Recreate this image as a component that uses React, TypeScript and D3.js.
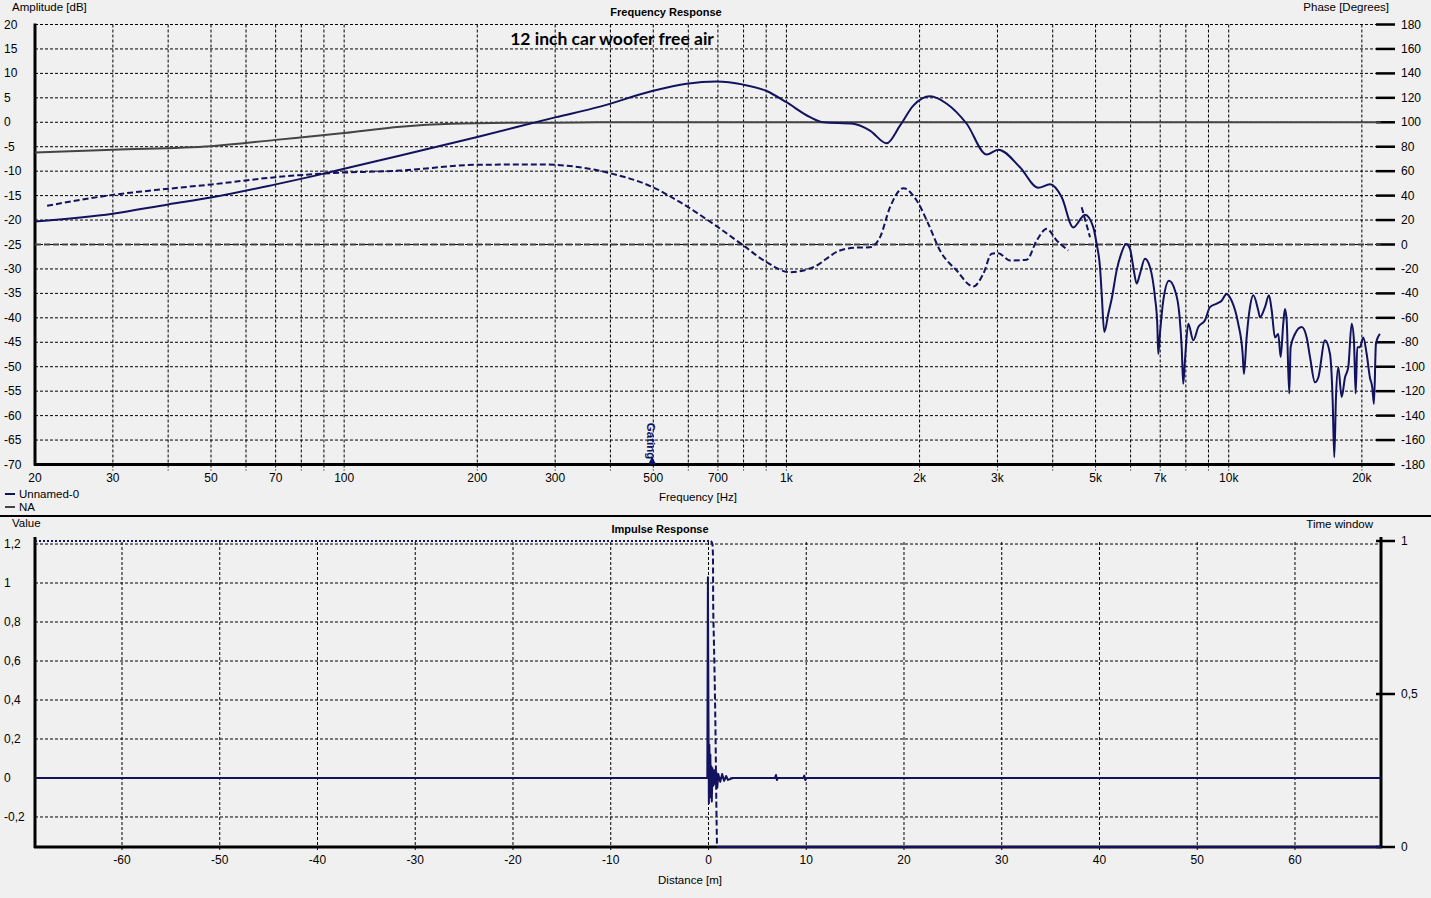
import React, { useEffect } from 'react';
import * as d3 from 'd3';

// ---------- DATA ----------
const freqDomain: [number, number] = [20, 22050];
const dbDomain: [number, number] = [-70, 20];
const phaseDomain: [number, number] = [-180, 180];

const dbTicks = [20, 15, 10, 5, 0, -5, -10, -15, -20, -25, -30, -35, -40, -45, -50, -55, -60, -65, -70];
const phaseTicks = [180, 160, 140, 120, 100, 80, 60, 40, 20, 0, -20, -40, -60, -80, -100, -120, -140, -160, -180];
const freqLabelTicks = [20, 30, 50, 70, 100, 200, 300, 500, 700, 1000, 2000, 3000, 5000, 7000, 10000, 20000];
const freqLabels = ['20', '30', '50', '70', '100', '200', '300', '500', '700', '1k', '2k', '3k', '5k', '7k', '10k', '20k'];
const freqGrid = [30, 40, 50, 60, 70, 80, 90, 100, 200, 300, 400, 500, 600, 700, 800, 900, 1000,
  2000, 3000, 4000, 5000, 6000, 7000, 8000, 9000, 10000, 20000];

// Unnamed-0 magnitude [Hz, dB]
const magnitudeUnnamed0: [number, number][] = [
  [20, -20.3], [30, -18.7], [40, -16.8], [50, -15.4], [70, -12.7], [90, -10.5], [100, -9.5], [134, -6.8], [200, -3.0],
  [300, 1.0], [379, 3.2], [497, 6.4], [595, 7.9], [695, 8.35], [799, 7.7], [902, 6.4], [1000, 4.1],
  [1131, 1.05], [1213, 0.0], [1416, -0.3], [1545, -1.7], [1685, -4.3], [1806, -0.7], [1936, 3.4], [2112, 5.3],
  [2304, 3.8], [2556, -0.3], [2836, -6.6], [3013, -5.6], [3373, -9.2], [3710, -13.4], [3944, -12.7], [4190, -15.3],
  [4452, -21.5], [4732, -18.9], [4942, -21.5], [5028, -24.9], [5116, -29.6], [5162, -35.1], [5232, -42.9], [5342, -39.2],
  [5438, -36.1], [5580, -30.3], [5728, -26.6], [5858, -24.9], [5982, -25.9], [6084, -29.6], [6194, -33.0], [6300, -31],
  [6466, -27.9], [6636, -29.6], [6812, -35.8], [6894, -41.2], [6930, -47.4], [6990, -43.3], [7112, -36.5], [7328, -32.4],
  [7560, -34.4], [7732, -39.2], [7828, -46], [7892, -53.5], [7962, -48.7], [8102, -41.2], [8316, -44.6], [8534, -41.9],
  [8838, -40.5], [9070, -37.8], [9392, -37.1], [9638, -36.5], [9892, -35.1], [10152, -36.5], [10508, -41.2], [10752, -47.4],
  [10824, -51.5], [10978, -44], [11170, -37.8], [11364, -35.4], [11664, -38.5], [11768, -39.9], [12078, -37.8], [12332, -35.4],
  [12508, -38.5], [12724, -44], [12942, -43.3], [13104, -48], [13284, -41.2], [13400, -38.2], [13522, -40.5], [13704, -55.5],
  [13804, -46], [14120, -43.3], [14620, -41.9], [15006, -44], [15268, -48], [15670, -53.2], [15944, -52.2], [16508, -44.6],
  [16944, -47.4], [17180, -56.9], [17324, -68.5], [17480, -56.2], [17690, -50.1], [18004, -56.2], [18318, -52.2], [18636, -50.1],
  [18966, -41.2], [19192, -44.6], [19366, -55.5], [19526, -46], [19802, -46], [20148, -44], [20508, -47.4], [20858, -52.2],
  [21112, -54.2], [21300, -57.6], [21522, -45.3], [21974, -43.3],
];

// Unnamed-0 phase [Hz, degrees]; null breaks the line
const phaseUnnamed0: [number, number | null][] = [
  [21.3, 31.7], [30, 40.6], [40, 45.6], [50, 49.1], [70, 55.1], [90, 58.1], [134, 60.5], [200, 65.2], [277, 65.5],
  [341, 63.2], [405, 57.8], [499, 46.9], [575, 34.6], [683, 16.9], [799, -0.8], [902, -14.5], [1019, -22.7],
  [1150, -18.6], [1321, -4.9], [1416, -2.7], [1545, -2.2], [1628, 6], [1715, 30.5], [1838, 46.1], [1970, 36],
  [2093, 16.9], [2224, -4.9], [2426, -21.3], [2644, -34.4], [2787, -24], [2911, -7.6], [3013, -7.1], [3203, -13.1],
  [3494, -12.5], [3680, 3.3], [3878, 12.8], [4084, 3.3], [4337, -4.9], [4500, null], [4651, 30.5], [4857, 6],
];

// NA magnitude [Hz, dB] and phase [Hz, deg]
const magnitudeNA: [number, number][] = [
  [20, -6.2], [30, -5.6], [50, -4.9], [70, -3.6], [100, -2.2], [134, -0.9], [175, -0.3], [250, -0.1],
  [340, -0.05], [400, 0], [22050, 0],
];
const phaseNA: [number, number][] = [[20, 0], [22050, 0]];

const gatingFreq = 497;

// Impulse response
const distDomain: [number, number] = [-68.9, 68.8];
const valueDomain: [number, number] = [-0.354, 1.236];
const valueTicks = [1.2, 1, 0.8, 0.6, 0.4, 0.2, 0, -0.2];
const valueLabels = ['1,2', '1', '0,8', '0,6', '0,4', '0,2', '0', '-0,2'];
const distTicks = [-60, -50, -40, -30, -20, -10, 0, 10, 20, 30, 40, 50, 60];
const windowTicks = [1, 0.5, 0];
const windowLabels = ['1', '0,5', '0'];

const impulse: [number, number][] = [
  [-68.9, 0], [-0.12, 0], [-0.06, 1.03], [0.0, 0.3], [0.04, -0.13], [0.09, 0.17], [0.14, -0.1], [0.19, 0.12],
  [0.24, -0.08], [0.29, 0.06], [0.34, -0.12], [0.4, 0.05], [0.5, -0.04], [0.6, 0.04], [0.7, -0.03], [0.8, 0.03],
  [0.9, -0.05], [1.0, 0.02], [1.2, -0.02], [1.4, 0.02], [1.6, -0.015], [1.8, 0.01], [2.0, -0.01], [2.5, 0],
  [6.8, 0], [6.9, 0.015], [7.0, -0.01], [7.1, 0], [9.7, 0], [9.8, 0.012], [9.9, -0.01], [10.0, 0], [68.8, 0],
];

const windowFlat: [number, number][] = [[-68.9, 1], [0.25, 1]];
const windowEdge: [number, number][] = [
  [0.25, 1], [0.4, 0.99], [0.46, 0.95], [0.48, 0.8], [0.55, 0.68], [0.66, 0.5], [0.72, 0.37], [0.8, 0.15], [0.87, 0],
];
const windowZero: [number, number][] = [[0.87, 0], [68.8, 0]];

// ---------- STYLE ----------
const NAVY = '#12125e';
const GRAY = '#444444';
const FONT = '"Liberation Sans", Arial, sans-serif';

export default function App() {
  useEffect(() => {
    document.body.style.margin = '0';
    document.body.style.background = '#f0f0f0';
  }, []);

  const x = d3.scaleLog().domain(freqDomain).range([35, 1380.6]);
  const yDb = d3.scaleLinear().domain(dbDomain).range([464.5, 24.5]);
  const yPh = d3.scaleLinear().domain(phaseDomain).range([464.5, 24.5]);

  const xd = d3.scaleLinear().domain(distDomain).range([35, 1381]);
  const yv = d3.scaleLinear().domain(valueDomain).range([847, 537]);
  const yw = d3.scaleLinear().domain([0, 1]).range([847, 541]);

  const magLine = d3.line<[number, number]>().x(d => x(d[0])).y(d => yDb(d[1])).curve(d3.curveMonotoneX);
  const phLine = d3.line<[number, number | null]>()
    .defined(d => d[1] !== null)
    .x(d => x(d[0])).y(d => yPh(d[1] as number)).curve(d3.curveMonotoneX);
  const impLine = d3.line<[number, number]>().x(d => xd(d[0])).y(d => yv(d[1]));
  const winLine = d3.line<[number, number]>().x(d => xd(d[0])).y(d => yw(d[1])).curve(d3.curveMonotoneX);

  const gx = x(gatingFreq);
  const plotTop = yDb(20);
  const plotBottom = yDb(-70);

  return (
    <svg width={1431} height={898} style={{ position: 'absolute', left: 0, top: 0, display: 'block', background: '#f0f0f0' }}
      fontFamily={FONT}>
      <rect x={0} y={0} width={1431} height={898} fill="#f0f0f0" />

      {/* ===== TOP: Frequency response ===== */}
      {dbTicks.filter(t => t !== -70).map(t => (
        <line key={'hg' + t} x1={35} x2={1376} y1={yDb(t)} y2={yDb(t)} stroke="#000" strokeWidth={1} strokeDasharray="3,2" />
      ))}
      {freqGrid.map(f => (
        <line key={'vg' + f} x1={x(f)} x2={x(f)} y1={plotTop} y2={plotBottom + 6} stroke="#000" strokeWidth={1} strokeDasharray="3,2" />
      ))}
      <line x1={35} x2={35} y1={plotTop - 1} y2={plotBottom + 1} stroke="#000" strokeWidth={3} />
      <line x1={34} x2={1393} y1={plotBottom} y2={plotBottom} stroke="#000" strokeWidth={3} />

      {dbTicks.map(t => (
        <text key={'dl' + t} x={4} y={yDb(t)} fontSize={12} dominantBaseline="central" fill="#000">{t}</text>
      ))}
      {phaseTicks.map(t => (
        <g key={'pt' + t}>
          <line x1={1376} x2={1395} y1={yPh(t)} y2={yPh(t)} stroke="#000" strokeWidth={2.5} />
          <text x={1401} y={yPh(t)} fontSize={12} dominantBaseline="central" fill="#000">{t}</text>
        </g>
      ))}
      {freqLabelTicks.map((f, i) => (
        <text key={'fl' + f} x={x(f)} y={478} fontSize={12} textAnchor="middle" dominantBaseline="central" fill="#000">{freqLabels[i]}</text>
      ))}

      {/* NA curves */}
      <path d={phLine(phaseNA as [number, number | null][]) || ''} fill="none" stroke={GRAY} strokeWidth={2} strokeDasharray="6,3" />
      <path d={magLine(magnitudeNA) || ''} fill="none" stroke={GRAY} strokeWidth={2} />

      {/* Unnamed-0 curves */}
      <path d={phLine(phaseUnnamed0) || ''} fill="none" stroke={NAVY} strokeWidth={2} strokeDasharray="6,3" />
      <path d={magLine(magnitudeUnnamed0) || ''} fill="none" stroke={NAVY} strokeWidth={2} strokeLinejoin="round" />

      {/* Gating marker */}
      <g fill={NAVY}>
        <text transform={`translate(${gx - 5},${441}) rotate(90)`} fontSize={11.5} fontWeight="bold" textAnchor="middle" fill={NAVY}>Gating</text>
        <path d={`M${gx},${plotBottom - 8} L${gx - 4},${plotBottom} L${gx + 4},${plotBottom} Z`} />
      </g>

      {/* titles */}
      <text x={12} y={7} fontSize={11.5} dominantBaseline="central" fill="#000">Amplitude [dB]</text>
      <text x={1389} y={7} fontSize={11.5} textAnchor="end" dominantBaseline="central" fill="#000">Phase [Degrees]</text>
      <text x={666} y={12} fontSize={11} fontWeight="bold" textAnchor="middle" dominantBaseline="central" fill="#000">Frequency Response</text>
      <text x={612} y={38} fontSize={17.5} fontWeight="bold" textAnchor="middle" dominantBaseline="central" fill="#000"
        fontFamily='Lato, "Open Sans", sans-serif'>12 inch car woofer free air</text>
      <text x={698} y={497} fontSize={11.5} textAnchor="middle" dominantBaseline="central" fill="#000">Frequency [Hz]</text>

      {/* legend */}
      <line x1={5} x2={15} y1={494} y2={494} stroke={NAVY} strokeWidth={2} />
      <text x={19} y={494} fontSize={11.5} dominantBaseline="central" fill="#000">Unnamed-0</text>
      <line x1={5} x2={15} y1={507} y2={507} stroke={GRAY} strokeWidth={2} />
      <text x={19} y={507} fontSize={11.5} dominantBaseline="central" fill="#000">NA</text>

      <line x1={0} x2={1431} y1={516} y2={516} stroke="#000" strokeWidth={2} />

      {/* ===== BOTTOM: Impulse response ===== */}
      <text x={12} y={523} fontSize={11.5} dominantBaseline="central" fill="#000">Value</text>
      <text x={660} y={529} fontSize={11} fontWeight="bold" textAnchor="middle" dominantBaseline="central" fill="#000">Impulse Response</text>
      <text x={1373} y={524} fontSize={11.5} textAnchor="end" dominantBaseline="central" fill="#000">Time window</text>

      {valueTicks.map(t => (
        <line key={'ihg' + t} x1={35} x2={1381} y1={yv(t)} y2={yv(t)} stroke="#000" strokeWidth={1} strokeDasharray="3,2" />
      ))}
      {distTicks.map(t => (
        <line key={'ivg' + t} x1={xd(t)} x2={xd(t)} y1={542} y2={851} stroke="#000" strokeWidth={1} strokeDasharray="3,2" />
      ))}

      <line x1={35} x2={35} y1={537} y2={848} stroke="#000" strokeWidth={3} />
      <line x1={34} x2={1382} y1={847} y2={847} stroke="#000" strokeWidth={3} />
      <line x1={1381} x2={1381} y1={537} y2={848} stroke="#000" strokeWidth={3} />

      {valueTicks.map((t, i) => (
        <text key={'ivl' + t} x={4} y={yv(t)} fontSize={12} dominantBaseline="central" fill="#000">{valueLabels[i]}</text>
      ))}
      {windowTicks.map((t, i) => (
        <g key={'iwt' + t}>
          <line x1={1376} x2={1395} y1={yw(t)} y2={yw(t)} stroke="#000" strokeWidth={2.5} />
          <text x={1401} y={yw(t)} fontSize={12} dominantBaseline="central" fill="#000">{windowLabels[i]}</text>
        </g>
      ))}
      {distTicks.map(t => (
        <text key={'idl' + t} x={xd(t)} y={860} fontSize={12} textAnchor="middle" dominantBaseline="central" fill="#000">{t}</text>
      ))}
      <text x={690} y={880} fontSize={11.5} textAnchor="middle" dominantBaseline="central" fill="#000">Distance [m]</text>

      {/* time window */}
      <path d={winLine(windowFlat) || ''} fill="none" stroke={NAVY} strokeWidth={2} strokeDasharray="2,2" />
      <path d={winLine(windowEdge) || ''} fill="none" stroke={NAVY} strokeWidth={2} strokeDasharray="6,3" />
      <path d={winLine(windowZero) || ''} fill="none" stroke={NAVY} strokeWidth={2} />

      {/* impulse */}
      <path d={impLine(impulse) || ''} fill="none" stroke={NAVY} strokeWidth={2} strokeLinejoin="round" />
    </svg>
  );
}
